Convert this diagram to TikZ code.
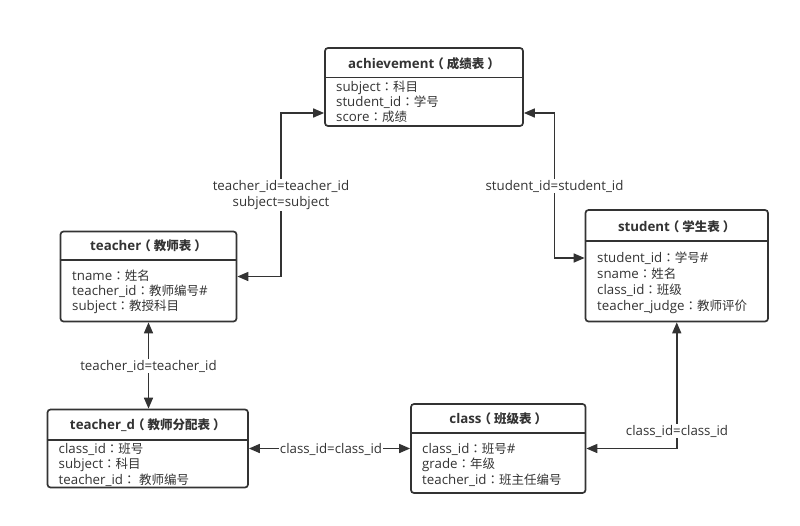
\documentclass[tikz,border=0pt]{standalone}
\usepackage{fontspec}
\setmainfont{Open Sans}
\newfontfamily\cjk{Noto Sans CJK SC}
\newfontfamily\cjkp{Noto Sans CJK TC}
\newcommand\zh[1]{{\cjk\fontsize{12.5}{15}\selectfont #1}}
\newcommand\fwc{{\cjkp\fontsize{12.5}{15}\selectfont ：}}
\newcommand\ztitle[1]{\kern-3pt{\cjk\fontsize{12.5}{15}\selectfont\bfseries （}\kern3pt\zh{\bfseries #1}\kern3pt{\cjk\fontsize{12.5}{15}\selectfont\bfseries ）}}
\usetikzlibrary{arrows.meta}
\definecolor{ink}{HTML}{333333}
\begin{document}
\begin{tikzpicture}[x=1pt,y=-1pt,
  tbl/.style={draw=ink, line width=1.7pt, rounded corners=3pt, inner sep=0pt, fill=white},
  hdr/.style={draw=ink, line width=1.7pt},
  ttl/.style={font=\fontsize{13.3}{15}\selectfont\bfseries, text=ink, inner sep=0pt},
  row/.style={font=\fontsize{13.3}{15}\selectfont, text=ink, anchor=west, inner sep=0pt, text height=9pt, text depth=3pt, yshift=-1.2pt},
  conn/.style={draw=ink, line width=1.6pt, {Triangle[length=11pt,width=9pt]}-{Triangle[length=11pt,width=9pt]}},
  lbl/.style={fill=white, font=\fontsize{13.3}{16}\selectfont, text=ink, inner sep=1pt, align=center}]
\useasboundingbox (0,0) rectangle (800,525);

% achievement
\node[tbl, minimum width=198pt, minimum height=78pt] (ach) at (424,87) {};
\draw[hdr] (ach.west |- 0,77.5) -- (ach.east |- 0,77.5);
\node[ttl] (achT) at (424,63.5) {achievement\ztitle{成绩表}};
\node[row] (ach1) at (336,87) {subject\fwc\zh{科目}};
\node[row] (ach2) at (336,102) {student\_id\fwc\zh{学号}};
\node[row] (ach3) at (336,117.5) {score\fwc\zh{成绩}};

% teacher
\node[tbl, minimum width=176pt, minimum height=90pt] (teacher) at (148.5,276.5) {};
\draw[hdr] (teacher.west |- 0,260) -- (teacher.east |- 0,260);
\node[ttl] (teacherT) at (148.5,246) {teacher\ztitle{教师表}};
\node[row] (teacher1) at (72,276.5) {tname\fwc\zh{姓名}};
\node[row] (teacher2) at (72,291.5) {teacher\_id\fwc\zh{教师编号}\#};
\node[row] (teacher3) at (72,306.5) {subject\fwc\zh{教授科目}};

% student
\node[tbl, minimum width=182.5pt, minimum height=111.5pt] (student) at (676.75,265.75) {};
\draw[hdr] (student.west |- 0,241) -- (student.east |- 0,241);
\node[ttl] (studentT) at (676.75,226.5) {student\ztitle{学生表}};
\node[row] (student1) at (597,258) {student\_id\fwc\zh{学号}\#};
\node[row] (student2) at (597,274.5) {sname\fwc\zh{姓名}};
\node[row] (student3) at (597,290.5) {class\_id\fwc\zh{班级}};
\node[row] (student4) at (597,306.5) {teacher\_judge\fwc\zh{教师评价}};

% teacher_d
\node[tbl, minimum width=200.5pt, minimum height=78pt] (tdx) at (147.75,448.5) {};
\draw[hdr] (tdx.west |- 0,440) -- (tdx.east |- 0,440);
\node[ttl] (tdxT) at (147.75,425) {teacher\_d\ztitle{教师分配表}};
\node[row] (tdx1) at (58.5,449) {class\_id\fwc\zh{班号}};
\node[row] (tdx2) at (58.5,464.5) {subject\fwc\zh{科目}};
\node[row] (tdx3) at (58.5,480) {teacher\_id\fwc\ \zh{教师编号}};

% class
\node[tbl, minimum width=174.5pt, minimum height=89pt] (cls) at (498.25,448.5) {};
\draw[hdr] (cls.west |- 0,433) -- (cls.east |- 0,433);
\node[ttl] (clsT) at (498.25,418.5) {class\ztitle{班级表}};
\node[row] (cls1) at (422,449) {class\_id\fwc\zh{班号}\#};
\node[row] (cls2) at (422,464.5) {grade\fwc\zh{年级}};
\node[row] (cls3) at (422,480) {teacher\_id\fwc\zh{班主任编号}};

% connectors
\draw[conn] (teacher.east) -- (281,276.5) -- (281,113) -- (ach.west |- 0,113);
\node[lbl] (l1) at (281,195) {teacher\_id=teacher\_id\\subject=subject};
\draw[conn] (ach.east |- 0,113) -- (554.5,113) -- (554.5,258) -- (student.west |- 0,258);
\node[lbl] (l2) at (554.5,186) {student\_id=student\_id};
\draw[conn] (teacher.south) -- (teacher.south |- tdx.north);
\node[lbl] (l3) at (148.5,366) {teacher\_id=teacher\_id};
\draw[conn] (tdx.east) -- (cls.west);
\node[lbl] (l4) at (331,449) {class\_id=class\_id};
\draw[conn] (cls.east) -- (student.south |- cls.east) -- (student.south);
\node[lbl] (l5) at (677,431) {class\_id=class\_id};
\end{tikzpicture}
\end{document}
